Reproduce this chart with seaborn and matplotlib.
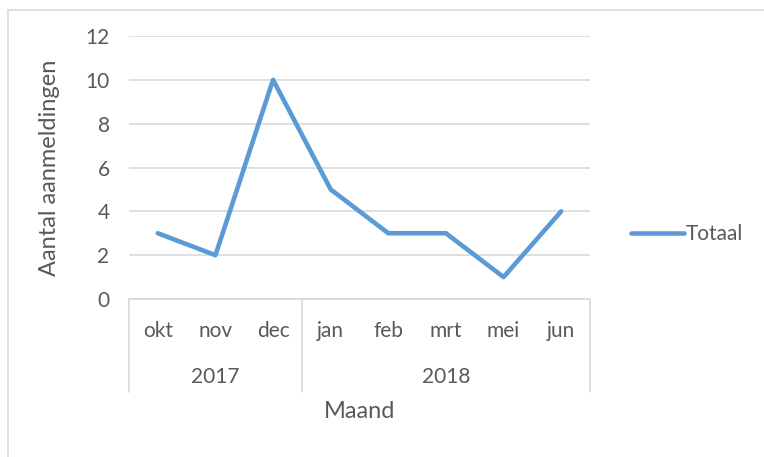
import matplotlib
matplotlib.use("Agg")
import matplotlib.pyplot as plt
import matplotlib.patches as mpatches
import matplotlib.transforms as mtransforms
import seaborn as sns
import pandas as pd

# ============================================================
# Aanmeldingen per maand (okt 2017 - jun 2018), Excel-style line chart
# ============================================================

months = ["okt", "nov", "dec", "jan", "feb", "mrt", "mei", "jun"]
years = ["2017", "2017", "2017", "2018", "2018", "2018", "2018", "2018"]
totaal = [3, 2, 10, 5, 3, 3, 1, 4]
y_ticks = [0, 2, 4, 6, 8, 10, 12]

TEXT = "#595959"
GRID = "#d9d9d9"
BLUE = "#5b9bd5"

sns.set_theme(style="white")
plt.rcParams["font.family"] = ["Lato", "DejaVu Sans"]

df = pd.DataFrame({"maand": months, "jaar": years, "Totaal": totaal})
df["pos"] = range(len(df))

W, H = 764, 457
fig = plt.figure(figsize=(W / 100, H / 100), dpi=100)
ax = fig.add_axes([129 / W, 1 - 299 / H, (590 - 129) / W, (299 - 36) / H])

sns.lineplot(data=df, x="pos", y="Totaal", ax=ax, color=BLUE, linewidth=3.3,
             label="Totaal", solid_capstyle="round", solid_joinstyle="round")

# --- axes styling ---
ax.set_xlim(-0.5, len(df) - 0.5)
ax.set_ylim(0, 12)
ax.set_yticks(y_ticks)
ax.set_yticklabels([str(t) for t in y_ticks], fontsize=15, color=TEXT)
ax.yaxis.grid(True, color=GRID, linewidth=1.2)
ax.set_axisbelow(True)
for side in ["top", "right", "left"]:
    ax.spines[side].set_visible(False)
ax.spines["bottom"].set_color(GRID)
ax.spines["bottom"].set_linewidth(1.2)
ax.tick_params(axis="y", length=0, pad=14)

ax.set_xticks(df["pos"])
ax.set_xticklabels(df["maand"], fontsize=15, color=TEXT)
ax.tick_params(axis="x", length=0, pad=16)
ax.set_xlabel("")
ax.set_ylabel("Aantal aanmeldingen", fontsize=17, color=TEXT, labelpad=18)

# --- two-level category axis (years + separators) ---
trans = mtransforms.blended_transform_factory(ax.transData, ax.transAxes)
depth = -(392 - 299) / (299 - 36)
bounds = [-0.5]
for i in range(1, len(years)):
    if years[i] != years[i - 1]:
        bounds.append(i - 0.5)
bounds.append(len(years) - 0.5)
for b in bounds:
    ax.plot([b, b], [0, depth], transform=trans, color=GRID, linewidth=1.2,
            clip_on=False)
for lo, hi in zip(bounds[:-1], bounds[1:]):
    label = years[int(lo + 0.5)]
    ax.text((lo + hi) / 2, -(377 - 299) / (299 - 36), label, transform=trans,
            ha="center", va="center", fontsize=15, color=TEXT)

ax.text(0.5, -(412 - 299) / (299 - 36), "Maand", transform=ax.transAxes,
        ha="center", va="center", fontsize=17, color=TEXT)

# --- legend ---
leg = ax.legend(loc="center left", bbox_to_anchor=(621 / W, 1 - 234 / H),
                bbox_transform=fig.transFigure, frameon=False, fontsize=15,
                handlelength=2.5, handletextpad=0.1, borderpad=0)
for t in leg.get_texts():
    t.set_color(TEXT)

# chart area border
fig.patches.append(mpatches.Rectangle((8 / W, -0.1), 1.2, (H - 10) / H + 0.1,
                                      transform=fig.transFigure, fill=False,
                                      edgecolor=GRID, linewidth=1.2))

fig.savefig("out.png", dpi=100)
